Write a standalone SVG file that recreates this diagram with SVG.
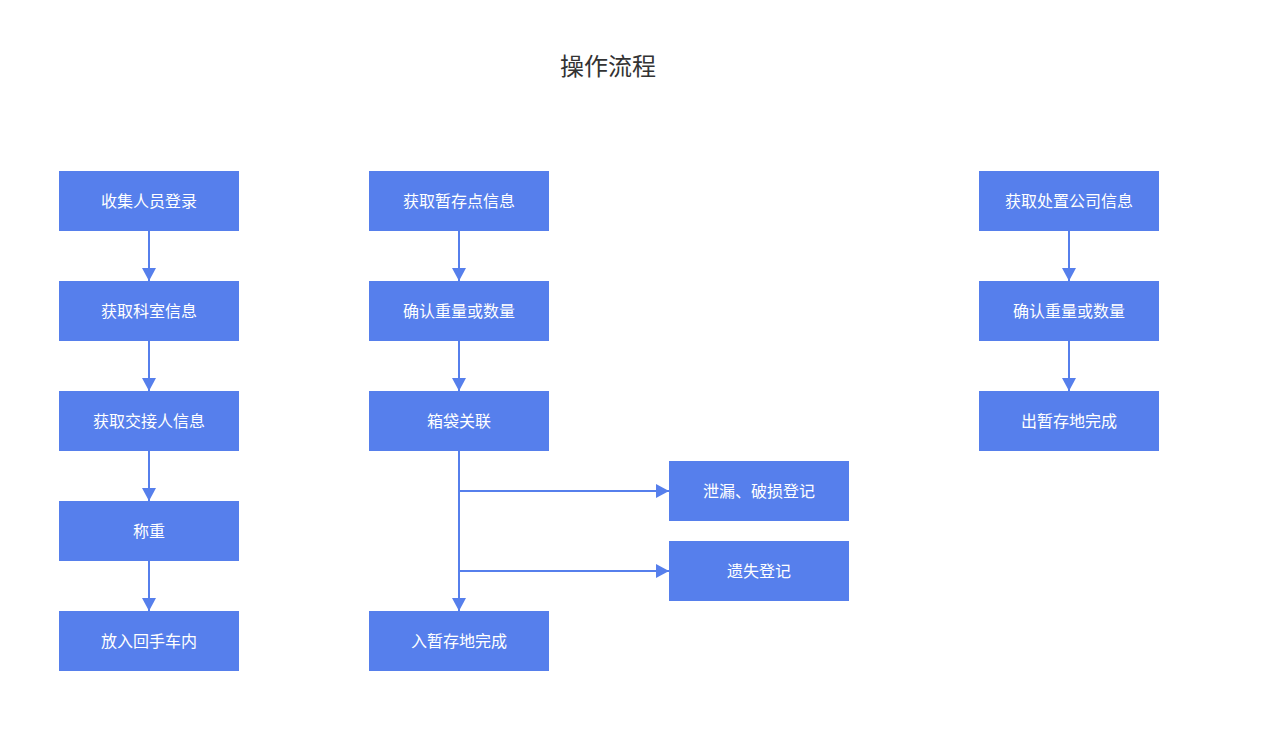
<svg xmlns="http://www.w3.org/2000/svg" width="1267" height="732" viewBox="0 0 1267 732">
<style>
.box{fill:#567fec}
.lbl{font-family:"Noto Sans CJK SC","Noto Sans",sans-serif;font-size:16px;fill:#ffffff;text-anchor:middle;dominant-baseline:central}
.title{font-family:"Noto Sans CJK SC","Noto Sans",sans-serif;font-size:24px;fill:#333333;text-anchor:middle;dominant-baseline:central}
.ln{stroke:#567fec;stroke-width:2;fill:none}
</style>
<defs>
<marker id="ah" markerUnits="userSpaceOnUse" markerWidth="14" markerHeight="14" viewBox="0 0 14 14" refX="13" refY="7" orient="auto">
<path d="M0,0 L13,7 L0,14 Z" fill="#567fec"/>
</marker>
</defs>
<rect width="1267" height="732" fill="#ffffff"/>
<text class="title" x="608" y="64">操作流程</text>
<g id="connectors">
<path class="ln" d="M149,231 V281" marker-end="url(#ah)"/>
<path class="ln" d="M149,341 V391" marker-end="url(#ah)"/>
<path class="ln" d="M149,451 V501" marker-end="url(#ah)"/>
<path class="ln" d="M149,561 V611" marker-end="url(#ah)"/>
<path class="ln" d="M459,231 V281" marker-end="url(#ah)"/>
<path class="ln" d="M459,341 V391" marker-end="url(#ah)"/>
<path class="ln" d="M459,451 V611" marker-end="url(#ah)"/>
<path class="ln" d="M459,491 H669" marker-end="url(#ah)"/>
<path class="ln" d="M459,571 H669" marker-end="url(#ah)"/>
<path class="ln" d="M1069,231 V281" marker-end="url(#ah)"/>
<path class="ln" d="M1069,341 V391" marker-end="url(#ah)"/>
</g>
<g id="n1"><rect class="box" x="59" y="171" width="180" height="60"/><text class="lbl" x="149" y="200">收集人员登录</text></g>
<g id="n2"><rect class="box" x="59" y="281" width="180" height="60"/><text class="lbl" x="149" y="310">获取科室信息</text></g>
<g id="n3"><rect class="box" x="59" y="391" width="180" height="60"/><text class="lbl" x="149" y="420">获取交接人信息</text></g>
<g id="n4"><rect class="box" x="59" y="501" width="180" height="60"/><text class="lbl" x="149" y="530">称重</text></g>
<g id="n5"><rect class="box" x="59" y="611" width="180" height="60"/><text class="lbl" x="149" y="640">放入回手车内</text></g>
<g id="m1"><rect class="box" x="369" y="171" width="180" height="60"/><text class="lbl" x="459" y="200">获取暂存点信息</text></g>
<g id="m2"><rect class="box" x="369" y="281" width="180" height="60"/><text class="lbl" x="459" y="310">确认重量或数量</text></g>
<g id="m3"><rect class="box" x="369" y="391" width="180" height="60"/><text class="lbl" x="459" y="420">箱袋关联</text></g>
<g id="m4"><rect class="box" x="369" y="611" width="180" height="60"/><text class="lbl" x="459" y="640">入暂存地完成</text></g>
<g id="s1"><rect class="box" x="669" y="461" width="180" height="60"/><text class="lbl" x="759" y="490">泄漏、破损登记</text></g>
<g id="s2"><rect class="box" x="669" y="541" width="180" height="60"/><text class="lbl" x="759" y="570">遗失登记</text></g>
<g id="r1"><rect class="box" x="979" y="171" width="180" height="60"/><text class="lbl" x="1069" y="200">获取处置公司信息</text></g>
<g id="r2"><rect class="box" x="979" y="281" width="180" height="60"/><text class="lbl" x="1069" y="310">确认重量或数量</text></g>
<g id="r3"><rect class="box" x="979" y="391" width="180" height="60"/><text class="lbl" x="1069" y="420">出暂存地完成</text></g>
</svg>
